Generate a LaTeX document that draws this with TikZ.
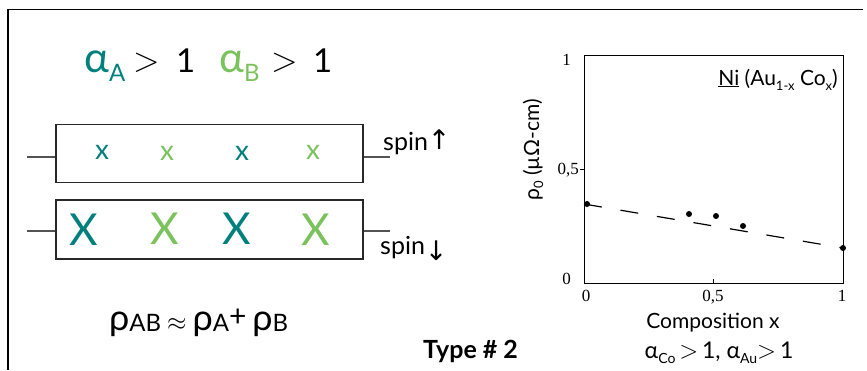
\documentclass[tikz,border=0pt]{standalone}
\usepackage{fontspec}
\usepackage{graphicx}
\setmainfont{Lato}
\newfontfamily\serifnum{Liberation Serif}
\newfontfamily\arrowfont{DejaVu Sans}
\definecolor{tealc}{RGB}{0,128,124}
\definecolor{greenc}{RGB}{122,194,92}
\definecolor{linec}{RGB}{40,40,40}
\newcommand\fsz[1]{\fontsize{#1}{#1}\selectfont}
\newcommand\lowsub[2]{\raisebox{-#1}{#2}}
\newcommand\biggt{\scalebox{1.4}{\fsz{24}$>$}}
\begin{document}
\begin{tikzpicture}[x=1pt,y=-1pt,
  txt/.style={inner sep=0pt,anchor=base west},
  boxline/.style={draw=linec,line width=1.3pt},
  lead/.style={draw=linec!80,line width=1.3pt},
  smallx/.style={inner sep=0pt,font=\fsz{28}},
  bigx/.style={inner sep=0pt,font=\fsz{44}},
  axis/.style={draw=black,line width=1pt},
  tick/.style={inner sep=0pt,font=\serifnum\fsz{17}},
  dot/.style={circle,fill=black,inner sep=0pt,minimum size=6pt},
  fit line/.style={draw=black,line width=1.2pt,dash pattern=on 18pt off 19pt}]
\useasboundingbox (0,0) rectangle (867,370);
% frame
\draw[line width=1.4pt] (8,370) -- (8,9.5) -- (863,9.5);
% alpha line
\node[txt] (aA) at (84,72) {\fsz{42}\color{tealc}α\lowsub{9pt}{\fsz{24}A}};
\node[txt] (gt1) at (133,71) {\biggt};
\node[txt] (one1) at (176,72) {\fsz{33}1};
\node[txt] (aB) at (219,72) {\fsz{42}\color{greenc}α\lowsub{9pt}{\fsz{24}B}};
\node[txt] (gt2) at (271,71) {\biggt};
\node[txt] (one2) at (313,72) {\fsz{33}1};
% boxes
\node[boxline,minimum width=307pt,minimum height=58pt,inner sep=0pt] (up) at (209.5,153.5) {};
\node[boxline,minimum width=307pt,minimum height=59pt,inner sep=0pt] (dn) at (209.5,229.5) {};
\coordinate (upL) at (27,157);
\coordinate (upR) at (390,157);
\coordinate (dnL) at (27,231);
\coordinate (dnR) at (390,231);
\draw[lead] (upL) -- (up.west |- upL);
\draw[lead] (up.east |- upR) -- (upR);
\draw[lead] (dnL) -- (dn.west |- dnL);
\draw[lead] (dn.east |- dnR) -- (dnR);
\node[txt] (spinup) at (383,150) {\fsz{25}spin{\arrowfont\fsz{27}\raisebox{1pt}{↑}}};
\node[txt] (spindn) at (380,254) {\fsz{25}spin{\arrowfont\fsz{27}\raisebox{-6pt}{↓}}};
% small x
\node[smallx,text=tealc] (x1) at (102,152) {x};
\node[smallx,text=greenc] (x2) at (167,153) {x};
\node[smallx,text=tealc] (x3) at (242,153) {x};
\node[smallx,text=greenc] (x4) at (313,152) {x};
% big X
\node[bigx,text=tealc] (X1) at (84,230) {X};
\node[bigx,text=greenc] (X2) at (165,229) {X};
\node[bigx,text=tealc] (X3) at (237,229) {X};
\node[bigx,text=greenc] (X4) at (316,230) {X};
% formula
\node[txt] (rho) at (109,330) {\fsz{36}ρ\lowsub{1pt}{\fsz{24}AB}\,{\fsz{30}$\approx$}\,ρ\lowsub{1pt}{\fsz{24}A}\raisebox{4pt}{\fsz{30}+}\,ρ\lowsub{1pt}{\fsz{24}B}};
\node[txt] (type) at (423,358) {\fsz{25}\bfseries Type \# 2};
% plot
\draw[axis] (584,55) rectangle (843,283);
\coordinate (ytick) at (584,169);
\draw[axis] (ytick) -- ++(-4,0);
\coordinate (xtick) at (713.5,283);
\draw[axis] (xtick) -- ++(0,-4);
\node[tick,anchor=east] (y1) at (571,60) {1};
\node[tick,anchor=east] (y05) at (579,170) {0,5};
\node[tick,anchor=east] (y0) at (571,279) {0};
\node[tick,anchor=north] (x0) at (586,290) {0};
\node[tick,anchor=north] (x05) at (713,290) {0,5};
\node[tick,anchor=north] (x1l) at (842,290) {1};
\coordinate (fitA) at (584,204);
\coordinate (fitB) at (843,248);
\draw[fit line] (fitA) -- (fitB);
\node[dot] (d1) at (587,204) {};
\node[dot] (d2) at (689,214) {};
\node[dot] (d3) at (716,216) {};
\node[dot] (d4) at (743,226) {};
\node[dot] (d5) at (843,248) {};
\node[inner sep=0pt,anchor=base east] (ni) at (838,85) {\fsz{21}\underline{Ni} (Au\lowsub{5pt}{\fsz{13}1-x} Co\lowsub{5pt}{\fsz{13}x})};
\node[inner sep=0pt,rotate=90] (ylab) at (533,150) {\fsz{21}ρ\lowsub{4pt}{\fsz{13}0} (µΩ-cm)};
\node[inner sep=0pt,anchor=base] (comp) at (713,328) {\fsz{21}Composition x};
\node[inner sep=0pt,anchor=base] (alph) at (719,358) {\fsz{23}α\lowsub{5pt}{\fsz{14}Co}\,$>$\,1, α\lowsub{5pt}{\fsz{14}Au}$>$\,1};
\end{tikzpicture}
\end{document}
